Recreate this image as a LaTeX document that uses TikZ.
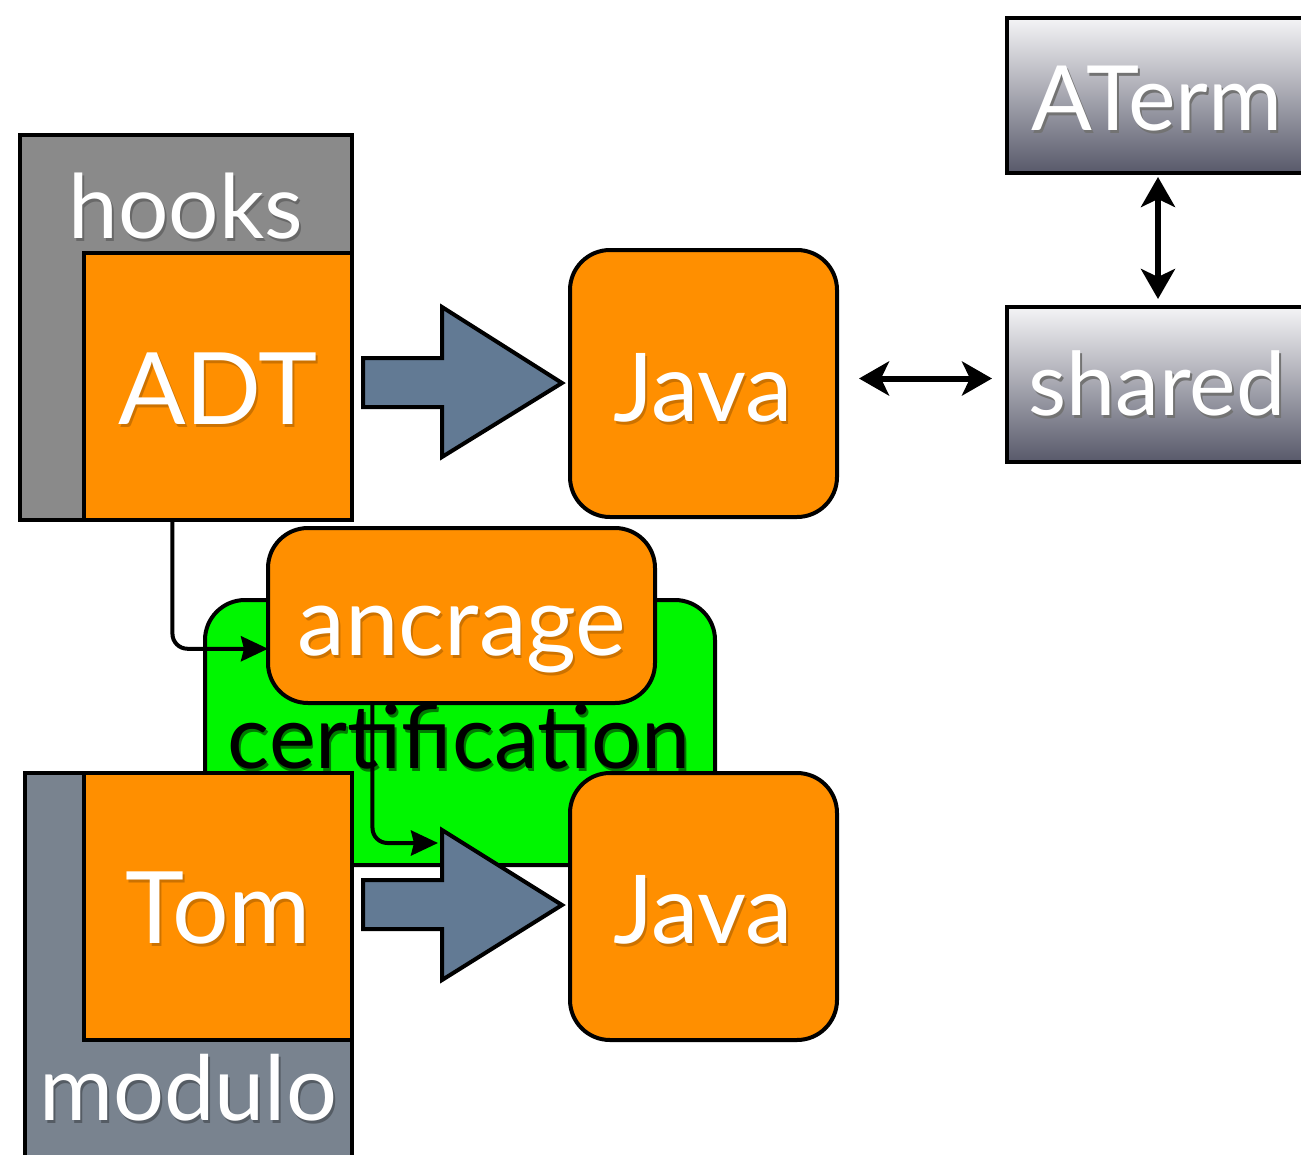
\documentclass[tikz,border=0pt]{standalone}
\usepackage{fontspec}
\setmainfont{Lato}
\usetikzlibrary{arrows.meta,calc}

\definecolor{boxorange}{RGB}{255,143,0}
\definecolor{hookgray}{RGB}{138,138,138}
\definecolor{modgray}{RGB}{121,131,143}
\definecolor{arrowblue}{RGB}{98,122,148}
\definecolor{certgreen}{RGB}{0,246,0}
\definecolor{termtop}{RGB}{244,244,246}
\definecolor{termmid}{RGB}{168,169,178}
\definecolor{termbot}{RGB}{88,89,106}

\tikzset{
  frame/.style={draw=black, line width=4pt, inner sep=0pt, outer sep=0pt, rectangle},
  layerbox/.style={frame},
  squarebox/.style={frame, fill=boxorange},
  roundbox/.style={frame, fill=boxorange, rounded corners=40pt},
  libbox/.style={frame, top color=termtop, middle color=termmid, bottom color=termbot},
  bigarrow/.style={draw=black, line width=4pt, fill=arrowblue, line join=miter},
  link/.style={line width=4pt, rounded corners=15pt,
    -{Stealth[length=27pt,width=25pt,inset=3pt]}},
  twoway/.style={line width=6pt,
    {Stealth[length=30pt,width=34pt,inset=8pt]}-{Stealth[length=30pt,width=34pt,inset=8pt]}},
  word/.style={anchor=base, inner sep=0pt},
}

% label with a drop shadow: name, x, y (baseline), size, text colour, shadow colour, text
\newcommand\shadedword[7]{%
  \node[word, font=\fontsize{#4}{#4}\selectfont] (#1) at (#2,#3)
    {\makebox[0pt][l]{\kern2pt\raisebox{-3pt}{\color{#6}#7}}{\color{#5}#7}};
}

\begin{document}
\begin{tikzpicture}[x=1pt, y=-1pt]
  \clip (0,0) rectangle (1301,1154);
  \fill[white] (0,0) rectangle (1301,1154);

  % hooks layer with the ADT block
  \node[layerbox, fill=hookgray, minimum width=332pt, minimum height=385pt] (hooks) at (186,327.5) {};
  \node[squarebox, minimum width=268pt, minimum height=267pt] (adt) at (218,386.5) {};
  \shadedword{hookstext}{186}{238}{89}{white}{hookgray!75!black}{hooks}
  \shadedword{adttext}{218}{424}{100}{white}{boxorange!80!black}{ADT}

  % compilation arrow ADT -> Java
  \draw[bigarrow] (363,358) -- (442,358) -- (442,307) -- (562,383) -- (442,457) -- (442,407) -- (363,407) -- cycle;

  % generated Java
  \node[roundbox, minimum width=267pt, minimum height=267pt] (java1) at (703.5,383.5) {};
  \shadedword{java1text}{703}{421}{95}{white}{boxorange!80!black}{Java}

  % runtime libraries
  \node[libbox, minimum width=302pt, minimum height=155pt] (aterm) at (1158,95.5) {};
  \shadedword{atermtext}{1157}{130}{90}{white}{black!55}{ATerm}
  \node[libbox, minimum width=302pt, minimum height=155pt] (shared) at (1158,384.5) {};
  \shadedword{sharedtext}{1157}{415}{88}{white}{black!55}{shared}

  \draw[twoway, shorten <=4pt, shorten >=8pt] (aterm.south) -- (shared.north);
  \draw[twoway, shorten <=22pt, shorten >=15pt]
    ([yshift=5pt]java1.east) -- ([yshift=5pt]java1.east -| shared.west);

  % certification group with anchoring block
  \node[frame, fill=certgreen, rounded corners=40pt, minimum width=510pt, minimum height=265pt] (cert) at (460,732.5) {};
  \node[roundbox, minimum width=387pt, minimum height=175pt] (ancrage) at (461.5,615.5) {};
  \shadedword{ancragetext}{462}{655}{96}{white}{boxorange!80!black}{ancrage}
  \shadedword{certtext}{459}{768}{88}{black}{certgreen!50!black}{certification}

  \draw[link] ($(adt.south west)!0.33!(adt.south east)$)
    |- ($(ancrage.south west)!0.31!(ancrage.north west)$);

  % modulo layer with the Tom block
  \node[layerbox, fill=modgray, minimum width=327pt, minimum height=427pt] (modulo) at (188.5,986.5) {};
  \node[squarebox, minimum width=268pt, minimum height=267pt] (tom) at (218,906.5) {};
  \shadedword{tomtext}{218}{943}{100}{white}{boxorange!80!black}{Tom}
  \shadedword{modulotext}{188}{1120}{90}{white}{modgray!70!black}{modulo}

  % compilation arrow Tom -> Java
  \draw[bigarrow] (363,880) -- (442,880) -- (442,830) -- (562,905) -- (442,980) -- (442,929) -- (363,929) -- cycle;
  \coordinate (tomcompile) at (438,843);

  \node[roundbox, minimum width=267pt, minimum height=267pt] (java2) at (703.5,906.5) {};
  \shadedword{java2text}{703}{943}{95}{white}{boxorange!80!black}{Java}

  \draw[link] ($(ancrage.south west)!0.27!(ancrage.south east)$) |- (tomcompile);
\end{tikzpicture}
\end{document}
